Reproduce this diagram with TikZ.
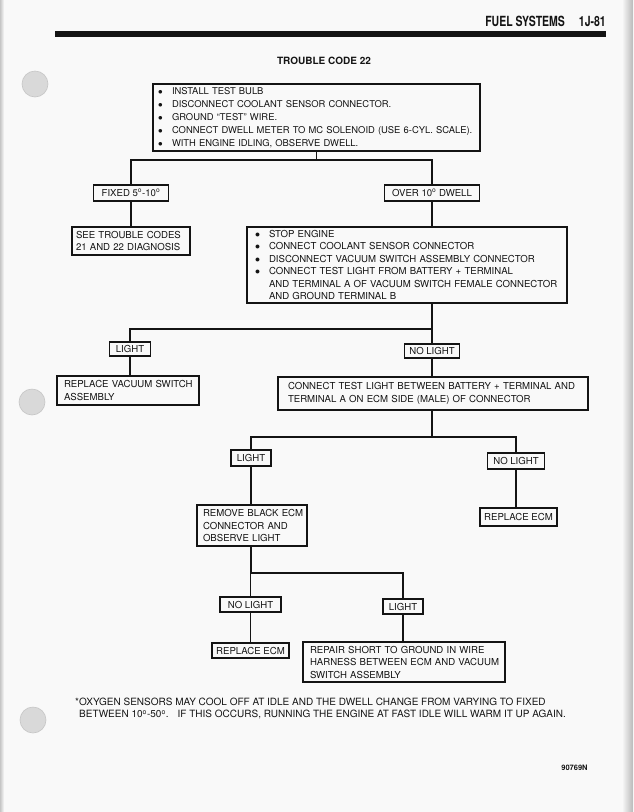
\documentclass[tikz,border=0pt]{standalone}
\usepackage{fontspec}
\setmainfont{TeX Gyre Heros}
\newfontfamily\condfont[FakeStretch=0.75]{TeX Gyre Heros}
\definecolor{ink}{gray}{0.08}
\definecolor{paper}{gray}{0.975}
\newcommand\bul{\makebox[14pt][l]{\raisebox{0.2pt}{$\bullet$}}}
\newcommand\bind{\hspace*{14pt}}
\newcommand\dg{\textsuperscript{o}}
\newcommand\lp[1]{\leftskip=#1\relax}
\begin{document}
\begin{tikzpicture}[x=1pt,y=-1pt,
  txt/.style={font=\fontsize{9.6}{12.5}\selectfont, text=ink},
  box/.style={txt, draw=ink, line width=1.2pt, inner sep=0pt},
  lab/.style n args={2}{box, minimum width=#1, minimum height=#2},
  blk/.style n args={2}{box, align=left, inner xsep=1pt, text width=#1, minimum height=#2},
  conn/.style={draw=ink, line width=1.1pt},
  hole/.style={fill=gray!30, draw=gray!45, line width=0.6pt}]
\useasboundingbox (0,0) rectangle (633,812);
\fill[paper] (0,0) rectangle (633,812);
\shade[left color=paper, right color=gray!55] (622,0) rectangle (633,812);
\shade[left color=gray!45, right color=paper] (0,0) rectangle (4,812);
% punch holes
\draw[hole] (35,84) circle (13);
\draw[hole] (32,402) circle (13);
\draw[hole] (33,720) circle (13);
% header
\node[anchor=base east, inner sep=0pt, text=ink, font=\condfont\bfseries\fontsize{14}{16}\selectfont] (hdr) at (606,26) {FUEL SYSTEMS\hspace{14pt}1J-81};
\fill[ink] (55,31) rectangle (606,36.5);
\node[txt, font=\bfseries\fontsize{10}{12}\selectfont, inner sep=0pt] (title) at (324,61) {TROUBLE CODE 22};
% boxes
\node[blk={327pt}{67pt}, inner xsep=0pt, font=\fontsize{9.4}{13}\selectfont] (top) at (316.5,117.5) {\lp{5pt}\bul INSTALL TEST BULB\\ \bul DISCONNECT COOLANT SENSOR CONNECTOR.\\ \bul GROUND ``TEST'' WIRE.\\ \bul CONNECT DWELL METER TO MC SOLENOID (USE 6-CYL.~SCALE).\\ \bul WITH ENGINE IDLING, OBSERVE DWELL.\par};
\node[lab={75pt}{16pt}] (fixed) at (131,193) {FIXED 5\dg-10\dg};
\node[lab={95pt}{16pt}] (over) at (432,193) {OVER 10\dg\ DWELL};
\node[blk={116pt}{28pt}] (see) at (131,241) {\lp{3pt}SEE TROUBLE CODES\\ 21 AND 22 DIAGNOSIS\par};
\node[blk={318pt}{76pt}] (stop) at (407,265) {\lp{7pt}\bul STOP ENGINE\\ \bul CONNECT COOLANT SENSOR CONNECTOR\\ \bul DISCONNECT VACUUM SWITCH ASSEMBLY CONNECTOR\\ \bul CONNECT TEST LIGHT FROM BATTERY + TERMINAL\\ \bind AND TERMINAL A OF VACUUM SWITCH FEMALE CONNECTOR\\ \bind AND GROUND TERMINAL B\par};
\node[lab={41pt}{14pt}] (light1) at (130,349) {LIGHT};
\node[lab={55pt}{14pt}] (nl1) at (432,351) {NO LIGHT};
\node[blk={140pt}{29pt}] (rvac) at (128,390.5) {\lp{6pt}REPLACE VACUUM SWITCH\\ ASSEMBLY\par};
\node[blk={308pt}{33pt}] (conn) at (433,393.5) {\lp{9pt}CONNECT TEST LIGHT BETWEEN BATTERY + TERMINAL AND\\ TERMINAL A ON ECM SIDE (MALE) OF CONNECTOR\par};
\node[lab={40pt}{16pt}] (light2) at (251,458) {LIGHT};
\node[lab={57pt}{16pt}] (nl2) at (516,461) {NO LIGHT};
\node[blk={108pt}{41pt}] (remove) at (252,525.5) {\lp{5pt}REMOVE BLACK ECM\\ CONNECTOR AND\\ OBSERVE LIGHT\par};
\node[lab={77pt}{18pt}] (rep2) at (518.5,517) {REPLACE ECM};
\node[lab={61pt}{15pt}] (nl3) at (250.5,604.5) {NO LIGHT};
\node[lab={40pt}{15pt}] (light3) at (403,606.5) {LIGHT};
\node[lab={77pt}{15pt}] (rep3) at (250.5,650.5) {REPLACE ECM};
\node[blk={200pt}{40pt}] (repair) at (404,662) {\lp{6pt}REPAIR SHORT TO GROUND IN WIRE\\ HARNESS BETWEEN ECM AND VACUUM\\ SWITCH ASSEMBLY\par};
% junctions
\coordinate (j1) at (316.5,160);
\coordinate (j2) at (432,329);
\coordinate (j3) at (432,437);
\coordinate (j4) at (251,573);
% connectors
\draw[conn] (top.south) -- (j1);
\draw[conn] (fixed.north) |- (j1) -| (over.north);
\draw[conn] (fixed.south) -- (see.north);
\draw[conn] (over.south) -- (over.south |- stop.north);
\draw[conn] (stop.south -| j2) -- (j2);
\draw[conn] (light1.north) |- (j2) -- (nl1.north);
\draw[conn] (light1.south) -- (light1.south |- rvac.north);
\draw[conn] (nl1.south) -- (nl1.south |- conn.north);
\draw[conn] (conn.south -| j3) -- (j3);
\draw[conn] (light2.north) |- (j3) -| (nl2.north);
\draw[conn] (light2.south) -- (light2.south |- remove.north);
\draw[conn] (nl2.south) -- (nl2.south |- rep2.north);
\draw[conn] (remove.south -| j4) -- (j4);
\draw[conn] (nl3.north) |- (j4) -| (light3.north);
\draw[conn] (nl3.south) -- (nl3.south |- rep3.north);
\draw[conn] (light3.south) -- (light3.south |- repair.north);
% footnote
\node[txt, anchor=north west, align=left, inner sep=0pt, font=\fontsize{10}{12}\selectfont] (foot) at (75,698) {*OXYGEN SENSORS MAY COOL OFF AT IDLE AND THE DWELL CHANGE FROM VARYING TO FIXED\\ \hspace*{4pt}BETWEEN 10\dg-50\dg.\hspace{9pt}IF THIS OCCURS, RUNNING THE ENGINE AT FAST IDLE WILL WARM IT UP AGAIN.};
\node[txt, font=\bfseries\fontsize{7.5}{9}\selectfont, inner sep=0pt] (code) at (574.5,768) {90769N};
\end{tikzpicture}
\end{document}
